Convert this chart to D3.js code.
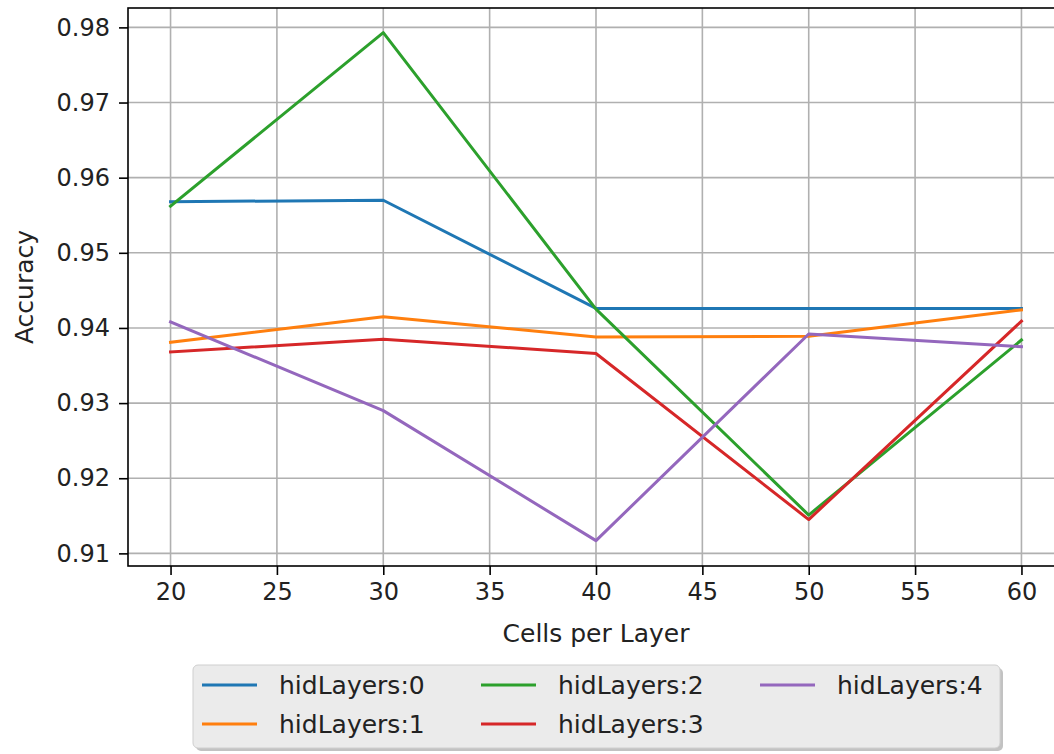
<!DOCTYPE html>
<html>
<head>
<meta charset="utf-8">
<script src="https://cdn.jsdelivr.net/npm/d3@7"></script>
<style>
  html, body { margin: 0; padding: 0; background: #fff; }
  svg { display: block; font-family: "DejaVu Sans", sans-serif; }
</style>
</head>
<body>
<svg id="chart" width="1054" height="754"></svg>
<script>
// Cells per layer tested for each network depth
const cells = [20, 30, 40, 50, 60];
const seriesNames = ["hidLayers:0", "hidLayers:1", "hidLayers:2", "hidLayers:3", "hidLayers:4"];
const acc0 = [0.9568, 0.9570, 0.9426, 0.9426, 0.9426];
const acc1 = [0.9381, 0.9415, 0.9388, 0.9389, 0.9424];
const acc2 = [0.9562, 0.9793, 0.9425, 0.9151, 0.9384];
const acc3 = [0.9368, 0.9385, 0.9366, 0.9145, 0.9409];
const acc4 = [0.9408, 0.9290, 0.9117, 0.9392, 0.9375];
const colors = ["#1f77b4", "#ff7f0e", "#2ca02c", "#d62728", "#9467bd"];
const xTicks = [20, 25, 30, 35, 40, 45, 50, 55, 60];
const yTicks = [0.91, 0.92, 0.93, 0.94, 0.95, 0.96, 0.97, 0.98];

const series = [acc0, acc1, acc2, acc3, acc4];

const svg = d3.select("#chart");
const plot = { left: 128, right: 1064, top: 8, bottom: 566 };

const x = d3.scaleLinear().domain([18, 62]).range([plot.left, plot.right]);
const y = d3.scaleLinear().domain([0.90832, 0.98258]).range([plot.bottom, plot.top]);

const fontSize = 24;

// grid
const grid = svg.append("g");
grid.selectAll("line.gx").data(xTicks).join("line")
  .attr("x1", d => x(d)).attr("x2", d => x(d))
  .attr("y1", plot.top).attr("y2", plot.bottom)
  .attr("stroke", "#b0b0b0").attr("stroke-width", 1.6);
grid.selectAll("line.gy").data(yTicks).join("line")
  .attr("y1", d => y(d)).attr("y2", d => y(d))
  .attr("x1", plot.left).attr("x2", plot.right)
  .attr("stroke", "#b0b0b0").attr("stroke-width", 1.6);

// series lines
const line = d3.line().x((d, i) => x(cells[i])).y(d => y(d));
svg.append("g").selectAll("path").data(series).join("path")
  .attr("d", d => line(d))
  .attr("fill", "none")
  .attr("stroke", (d, i) => colors[i])
  .attr("stroke-width", 3)
  .attr("stroke-linejoin", "round")
  .attr("stroke-linecap", "square");

// axes
const xAxis = d3.axisBottom(x).tickValues(xTicks).tickSize(9).tickPadding(8).tickFormat(d3.format("d"));
const yAxis = d3.axisLeft(y).tickValues(yTicks).tickSize(9).tickPadding(9).tickFormat(d3.format(".2f"));

const gx = svg.append("g").attr("transform", `translate(0,${plot.bottom})`).call(xAxis);
const gy = svg.append("g").attr("transform", `translate(${plot.left},0)`).call(yAxis);
[gx, gy].forEach(g => {
  g.select(".domain").remove();
  g.selectAll(".tick line").attr("stroke", "#000").attr("stroke-width", 1.6);
  g.selectAll(".tick text").attr("fill", "#222").style("font-size", fontSize + "px")
    .style("font-family", "DejaVu Sans, sans-serif");
});

// frame
svg.append("rect")
  .attr("x", plot.left).attr("y", plot.top)
  .attr("width", plot.right - plot.left).attr("height", plot.bottom - plot.top)
  .attr("fill", "none").attr("stroke", "#000").attr("stroke-width", 1.6);

// axis titles
svg.append("text")
  .attr("x", (plot.left + plot.right) / 2).attr("y", 642)
  .attr("text-anchor", "middle").attr("fill", "#222")
  .style("font-size", "25px")
  .text("Cells per Layer");

svg.append("text")
  .attr("transform", `translate(33,${(plot.top + plot.bottom) / 2}) rotate(-90)`)
  .attr("text-anchor", "middle").attr("fill", "#222")
  .style("font-size", "25px")
  .text("Accuracy");

// legend
const lg = svg.append("g");
const box = { x: 193, y: 665, w: 807, h: 83 };
lg.append("rect")
  .attr("x", box.x + 3).attr("y", box.y + 3).attr("width", box.w).attr("height", box.h)
  .attr("rx", 5).attr("fill", "#9a9a9a").attr("opacity", 0.6);
lg.append("rect")
  .attr("x", box.x).attr("y", box.y).attr("width", box.w).attr("height", box.h)
  .attr("rx", 5).attr("fill", "#ebebeb").attr("stroke", "#cfcfcf").attr("stroke-width", 1);

const colX = [202, 481, 760];
const rowY = [685, 724];
const items = lg.selectAll("g.item").data(seriesNames).join("g")
  .attr("transform", (d, i) => `translate(${colX[Math.floor(i / 2)]},${rowY[i % 2]})`);
items.append("line")
  .attr("x1", 0).attr("x2", 55).attr("y1", 0).attr("y2", 0)
  .attr("stroke", (d, i) => colors[i]).attr("stroke-width", 3);
items.append("text")
  .attr("x", 77).attr("y", 0).attr("dy", "0.35em")
  .attr("fill", "#222").style("font-size", "25px")
  .text(d => d);
</script>
</body>
</html>
